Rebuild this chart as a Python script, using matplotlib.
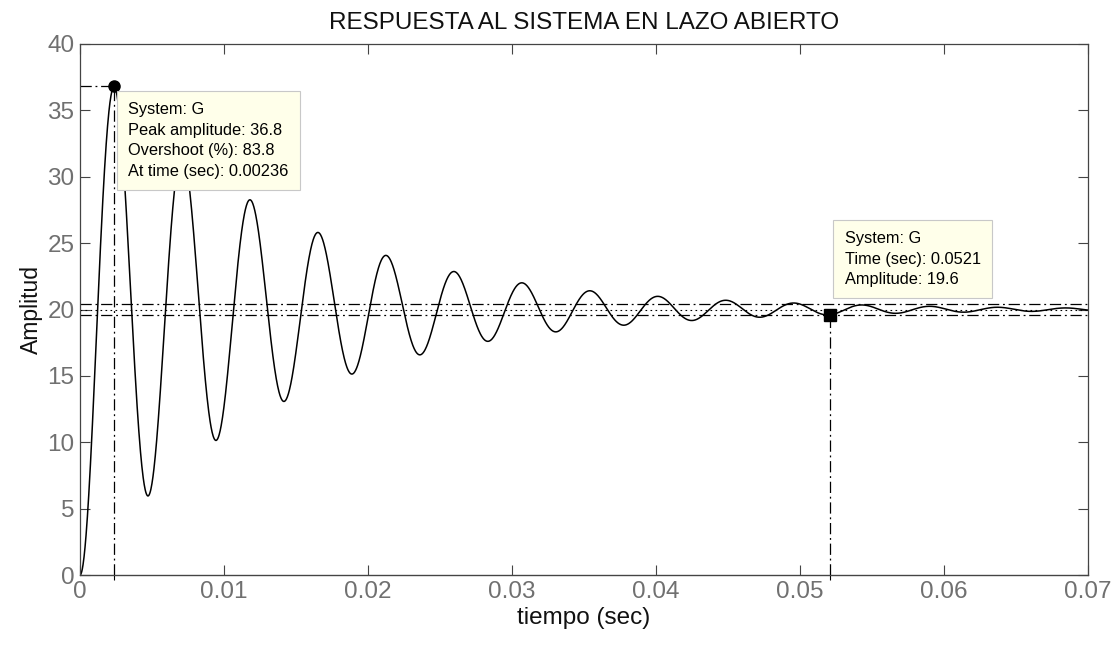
import numpy as np
import matplotlib
matplotlib.use("Agg")
import matplotlib.pyplot as plt

plt.rcParams["font.family"] = ["Liberation Sans", "DejaVu Sans"]

# datatip values of system G
peak_time = 0.00236
peak_amp = 36.8
overshoot = 83.8
settle_time = 0.0521
settle_amp = 19.6
final_value = 20.0
band = [19.6, 20.4]

# second order step response rebuilt from the peak datatip
lnos = np.log(overshoot / 100.0)
zeta = -lnos / np.sqrt(np.pi**2 + lnos**2)
wd = np.pi / peak_time
wn = wd / np.sqrt(1 - zeta**2)
t = np.linspace(0, 0.07, 3000)
y = final_value * (1 - np.exp(-zeta * wn * t) *
                   (np.cos(wd * t) + zeta / np.sqrt(1 - zeta**2) * np.sin(wd * t)))

fig = plt.figure(figsize=(11.15, 6.47), dpi=100)
ax = fig.add_axes([80 / 1115, 1 - 575 / 647, 1008 / 1115, 531 / 647])

ax.plot(t, y, color="black", lw=1.1)

dashdot = (0, (9, 3, 1.5, 3))
# settling band and final value
for b in band:
    ax.axhline(b, color="black", lw=0.9, ls=dashdot)
ax.axhline(final_value, color="black", lw=0.8, ls=(0, (1.5, 3)))

# peak marker and guides
ax.plot([0, peak_time], [peak_amp, peak_amp], color="black", lw=0.9, ls=dashdot)
ax.plot([peak_time, peak_time], [0, peak_amp], color="black", lw=0.9, ls=dashdot)
ax.plot(peak_time, peak_amp, "o", color="black", ms=8)

# settling time marker
ax.plot([settle_time, settle_time], [0, settle_amp], color="black", lw=0.9, ls=dashdot)
ax.plot(settle_time, settle_amp, "s", color="black", ms=8)

tip = dict(boxstyle="square,pad=0.7", fc="#ffffea", ec="#c8c8c8", lw=0.8)
ax.text(0.00335, 35.6,
        "System: G\nPeak amplitude: %.1f\nOvershoot (%%): %.1f\nAt time (sec): %.5f"
        % (peak_amp, overshoot, peak_time),
        fontsize=11.8, va="top", ha="left", linespacing=1.45, bbox=tip, zorder=5)
ax.text(0.0531, 25.9,
        "System: G\nTime (sec): %.4f\nAmplitude: %.1f" % (settle_time, settle_amp),
        fontsize=11.8, va="top", ha="left", linespacing=1.45, bbox=tip, zorder=5)

ax.set_xlim(0, 0.07)
ax.set_ylim(0, 40)
ax.set_xticks(np.arange(0, 0.0701, 0.01))
ax.set_xticklabels(["0", "0.01", "0.02", "0.03", "0.04", "0.05", "0.06", "0.07"])
ax.set_yticks(np.arange(0, 41, 5))

# extra ticks at the characteristic points
ax.secondary_xaxis("bottom").set_xticks([peak_time, settle_time], labels=["", ""])

ax.tick_params(direction="in", length=7, width=0.8, colors="#444444",
               labelcolor="#707070", labelsize=17.5, top=True, right=True, pad=4)
for s in ax.spines.values():
    s.set_color("#444444")
    s.set_linewidth(0.9)

ax.set_title("RESPUESTA AL SISTEMA EN LAZO ABIERTO", fontsize=17.5, pad=11,
             color="#111111")
ax.set_xlabel("tiempo (sec)", fontsize=17.5, labelpad=3, color="#111111")
ax.set_ylabel("Amplitud", fontsize=16.5, labelpad=3, color="#111111")

fig.savefig("out.png", dpi=100)
